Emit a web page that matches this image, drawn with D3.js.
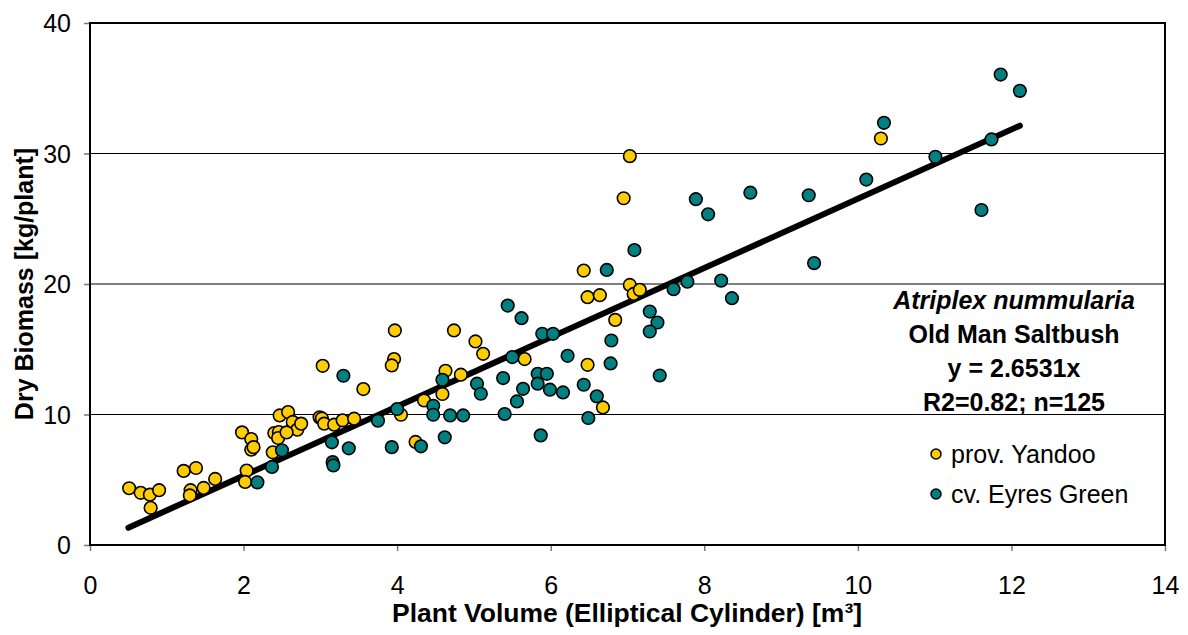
<!DOCTYPE html>
<html>
<head>
<meta charset="utf-8">
<script src="https://cdn.jsdelivr.net/npm/d3@7"></script>
<style>
  body { margin: 0; background: #fff; }
  svg { font-family: "Liberation Sans", Arial, sans-serif; }
</style>
</head>
<body>
<svg id="chart" width="1188" height="635"></svg>
<script>
// prov. Yandoo [volume m³, biomass kg]
const yandoo = [
  [0.51, 4.35], [0.66, 4.0], [0.78, 3.86], [0.90, 4.2], [0.79, 2.85],
  [1.22, 5.68], [1.38, 5.9], [1.31, 4.2], [1.30, 3.8], [1.48, 4.37],
  [1.63, 5.06], [1.98, 8.63], [2.10, 8.12], [2.10, 7.3], [2.13, 7.5],
  [2.04, 5.7], [2.02, 4.83], [2.38, 7.1], [2.40, 8.58], [2.46, 8.66],
  [2.45, 8.2], [2.47, 9.93], [2.58, 10.19], [2.64, 9.43], [2.70, 8.84],
  [2.75, 9.3], [2.56, 8.63], [3.03, 13.73], [3.56, 11.95], [2.99, 9.78],
  [3.02, 9.7], [3.05, 9.3], [3.18, 9.22], [3.29, 9.55], [3.44, 9.68],
  [3.97, 16.44], [3.96, 14.25], [3.93, 13.76], [4.74, 16.44], [5.02, 15.6],
  [5.12, 14.65], [5.66, 14.25], [6.43, 21.03], [6.48, 18.99], [6.64, 19.14],
  [7.03, 19.93], [7.08, 19.24], [7.16, 19.55], [6.84, 17.25], [6.48, 13.81],
  [6.68, 10.54], [4.63, 13.35], [4.83, 13.05], [4.59, 11.57], [4.35, 11.08],
  [4.05, 9.98], [4.24, 7.9], [7.03, 29.8], [6.95, 26.57], [10.30, 31.15]
];

// cv. Eyres Green
const eyres = [
  [2.18, 4.8], [2.37, 5.98], [2.50, 7.26], [3.30, 12.97], [3.75, 9.53],
  [3.15, 7.87], [3.16, 6.35], [3.17, 6.1], [3.37, 7.41], [3.93, 7.5],
  [5.44, 18.35], [5.62, 17.38], [5.89, 16.18], [6.03, 16.18], [5.50, 14.4],
  [6.22, 14.5], [6.73, 21.08], [6.79, 15.67], [6.78, 13.91], [7.29, 17.89],
  [7.39, 17.05], [7.29, 16.36], [7.60, 19.6], [7.42, 12.99], [7.09, 22.6],
  [6.43, 12.28], [6.60, 11.39], [6.49, 9.73], [5.83, 13.12], [5.95, 13.12],
  [5.83, 12.36], [5.99, 11.9], [6.16, 11.69], [5.38, 12.79], [5.64, 11.97],
  [5.56, 11.0], [5.40, 10.04], [5.87, 8.4], [5.04, 12.36], [5.09, 11.59],
  [4.69, 9.93], [4.86, 9.93], [4.62, 8.25], [4.59, 12.66], [4.47, 10.67],
  [4.47, 9.98], [4.00, 10.42], [4.31, 7.56], [7.89, 26.5], [8.05, 25.34],
  [8.60, 27.0], [9.36, 26.8], [10.11, 28.0], [9.43, 21.6], [8.22, 20.26],
  [8.36, 18.91], [7.78, 20.18], [11.86, 36.05], [12.11, 34.8], [10.34, 32.35],
  [11.01, 29.75], [11.74, 31.08], [11.61, 25.67]
];

const slope = 2.6531;
const trendRange = [0.5, 12.11];
const xTicks = [0, 2, 4, 6, 8, 10, 12, 14];
const yTicks = [0, 10, 20, 30, 40];
const annotation = ["Atriplex nummularia", "Old Man Saltbush", "y = 2.6531x", "R2=0.82; n=125"];
const series = [
  { label: "prov. Yandoo", color: "#FFCC00", data: yandoo },
  { label: "cv. Eyres Green", color: "#008080", data: eyres }
];

const margin = { top: 23, right: 23, bottom: 90, left: 90 };
const width = 1188, height = 635;
const innerWidth = width - margin.left - margin.right;
const innerHeight = height - margin.top - margin.bottom;
const fontSize = 25;

const svg = d3.select("#chart");
const innerChart = svg.append("g")
  .attr("transform", `translate(${margin.left},${margin.top})`);

const xScale = d3.scaleLinear().domain([0, 14]).range([0, innerWidth]);
const yScale = d3.scaleLinear().domain([0, 40]).range([innerHeight, 0]);

// gridlines
innerChart.selectAll(".grid")
  .data(yTicks.filter(d => d > 0 && d < 40))
  .join("line")
  .attr("class", "grid")
  .attr("x1", 0).attr("x2", innerWidth)
  .attr("y1", d => yScale(d)).attr("y2", d => yScale(d))
  .attr("stroke", "#000").attr("stroke-width", 1);

// axes
const xAxis = innerChart.append("g")
  .attr("transform", `translate(0,${innerHeight})`)
  .call(d3.axisBottom(xScale).tickValues(xTicks).tickSize(6).tickPadding(25).tickFormat(d3.format("d")));
const yAxis = innerChart.append("g")
  .call(d3.axisLeft(yScale).tickValues(yTicks).tickSize(6).tickPadding(13).tickFormat(d3.format("d")));

[xAxis, yAxis].forEach(ax => {
  ax.select(".domain").remove();
  ax.selectAll(".tick line").attr("stroke", "#777").attr("stroke-width", 1.5);
  ax.selectAll(".tick text").attr("font-size", fontSize).attr("fill", "#000")
    .attr("font-family", "Liberation Sans, Arial, sans-serif");
});
yAxis.selectAll(".tick text").attr("dy", "0.35em");

// frame
innerChart.append("rect")
  .attr("width", innerWidth).attr("height", innerHeight)
  .attr("fill", "none").attr("stroke", "#000").attr("stroke-width", 2);

// trendline
innerChart.append("line")
  .attr("x1", xScale(trendRange[0])).attr("y1", yScale(slope * trendRange[0]))
  .attr("x2", xScale(trendRange[1])).attr("y2", yScale(slope * trendRange[1]))
  .attr("stroke", "#000").attr("stroke-width", 6).attr("stroke-linecap", "round");

// points
series.forEach(s => {
  innerChart.append("g")
    .selectAll("circle")
    .data(s.data)
    .join("circle")
    .attr("cx", d => xScale(d[0]))
    .attr("cy", d => yScale(d[1]))
    .attr("r", 6.3)
    .attr("fill", s.color)
    .attr("stroke", "#000")
    .attr("stroke-width", 1.6);
});

// annotation
const ann = svg.append("g").attr("text-anchor", "middle")
  .attr("font-size", fontSize).attr("font-weight", "bold");
ann.selectAll("text")
  .data(annotation)
  .join("text")
  .attr("x", 1014)
  .attr("y", (d, i) => 309 + i * 34)
  .attr("font-style", (d, i) => i === 0 ? "italic" : "normal")
  .text(d => d);

// legend
const legend = svg.append("g").attr("transform", "translate(936,454)");
const items = legend.selectAll("g")
  .data(series)
  .join("g")
  .attr("transform", (d, i) => `translate(0,${i * 40})`);
items.append("circle")
  .attr("r", 5).attr("fill", d => d.color)
  .attr("stroke", "#000").attr("stroke-width", 1.5);
items.append("text")
  .attr("x", 15).attr("dy", "0.36em")
  .attr("font-size", fontSize)
  .text(d => d.label);

// axis titles
svg.append("text")
  .attr("x", 627).attr("y", 622)
  .attr("text-anchor", "middle").attr("font-size", fontSize).attr("font-weight", "bold")
  .attr("textLength", 470).attr("lengthAdjust", "spacingAndGlyphs")
  .text("Plant Volume (Elliptical Cylinder) [m³]");
svg.append("text")
  .attr("transform", `translate(33,284) rotate(-90)`)
  .attr("text-anchor", "middle").attr("font-size", fontSize).attr("font-weight", "bold")
  .text("Dry Biomass [kg/plant]");
</script>
</body>
</html>
